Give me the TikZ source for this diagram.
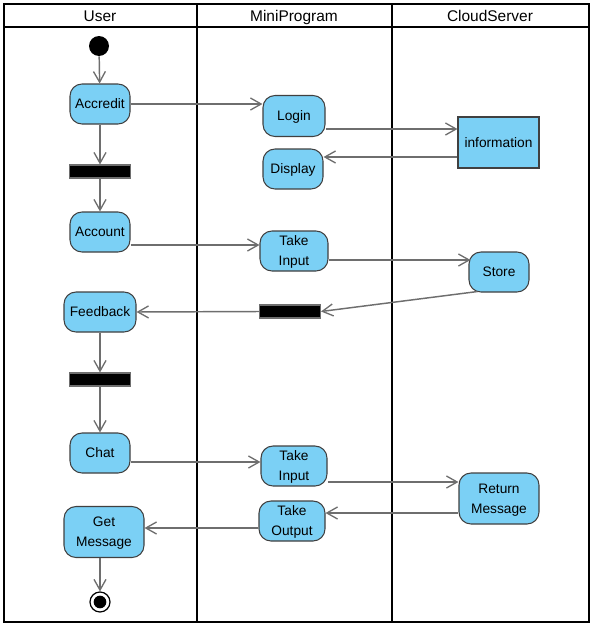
\documentclass[tikz,border=0pt]{standalone}
\usepackage{fontspec}
\setmainfont{Liberation Sans}
\usetikzlibrary{arrows.meta,calc}
\definecolor{actfill}{RGB}{123,208,245}
\definecolor{actdraw}{RGB}{64,64,64}
\definecolor{flowgray}{RGB}{110,110,110}
\begin{document}
\begin{tikzpicture}[x=0.75pt,y=-0.75pt,
  act/.style={draw=actdraw,line width=0.8pt,fill=actfill,rounded corners=9pt,inner sep=0pt,text depth=-1pt,align=center,font=\fontsize{10.3}{15}\selectfont},
  infobox/.style={draw=actdraw,line width=0.8pt,fill=actfill,inner sep=0pt,text depth=-1pt,align=center,font=\fontsize{10.3}{15}\selectfont},
  syncbar/.style={draw=flowgray,line width=0.8pt,fill=black,minimum width=45.75pt,minimum height=9.75pt,inner sep=0pt},
  flow/.style={draw=flowgray,line width=1.1pt,-{Straight Barb[length=8pt,width=9pt,line width=1pt]}},
  lane/.style={draw=black,line width=1.6pt},
  hdr/.style={font=\fontsize{11.6}{13}\selectfont,inner sep=0pt,text depth=0pt}]
\useasboundingbox (0,0) rectangle (594,628);
% swimlanes
\draw[lane] (4,4) rectangle (589,622);
\draw[lane] (4,27) -- (589,27);
\draw[lane] (197,4) -- (197,622);
\draw[lane] (392,4) -- (392,622);
\node[hdr] (hUser) at (100,16) {User};
\node[hdr] (hMini) at (294,16) {MiniProgram};
\node[hdr] (hCloud) at (490,16) {CloudServer};
% nodes
\node[circle,fill=black,minimum size=15pt,inner sep=0pt] (start) at (99,46) {};
\node[act,minimum width=45pt,minimum height=30pt] (accredit) at (100,104) {Accredit};
\node[syncbar] (bar1) at (100,171.5) {};
\node[act,minimum width=45pt,minimum height=30pt] (account) at (100,232) {Account};
\node[act,minimum width=54pt,minimum height=30pt] (feedback) at (100,312) {Feedback};
\node[syncbar] (bar2) at (100,379.5) {};
\node[act,minimum width=45pt,minimum height=30pt] (chat) at (100,453) {Chat};
\node[act,minimum width=60pt,minimum height=38.25pt] (getmsg) at (104,532) {Get\\Message};
\node[circle,draw=black,line width=0.9pt,fill=white,minimum size=15pt,inner sep=0pt] (end) at (100,602) {};
\node[circle,fill=black,minimum size=9.5pt,inner sep=0pt] (endin) at (end.center) {};

\node[act,minimum width=46.5pt,minimum height=30.75pt] (login) at (294,116) {Login};
\node[act,minimum width=45pt,minimum height=30pt] (display) at (293,169) {Display};
\node[act,minimum width=51pt,minimum height=30pt] (take1) at (294,251) {Take\\Input};
\node[syncbar] (bar3) at (290,311.5) {};
\node[act,minimum width=49.5pt,minimum height=30pt] (take2) at (294,466) {Take\\Input};
\node[act,minimum width=49.5pt,minimum height=30pt] (takeout) at (292,521) {Take\\Output};

\node[infobox,minimum width=60.75pt,minimum height=38.25pt] (info) at (498.5,142.5) {information};
\node[act,minimum width=45pt,minimum height=30pt] (store) at (499,272) {Store};
\node[act,minimum width=60pt,minimum height=38.25pt] (retmsg) at (499,498.5) {Return\\Message};

% connectors
\draw[flow] (start) -- (accredit);
\draw[flow] (accredit.east) -- (accredit.east -| login.west);
\draw[flow] (login.east |- 0,129) -- (info.west |- 0,129);
\draw[flow] (info.west |- 0,157) -- (display.east |- 0,157);
\draw[flow] (accredit) -- (bar1);
\draw[flow] (bar1) -- (account);
\draw[flow] (account.east |- 0,245) -- (take1.west |- 0,245);
\draw[flow] (take1.east |- 0,260) -- ($(store.west |- 0,260)+(2,0)$);
\draw[flow] ($(store.south west)+(9,-1)$) -- (bar3.east);
\draw[flow] (bar3.west) -- (feedback.east);
\draw[flow] (feedback) -- (bar2);
\draw[flow] (bar2) -- (chat);
\draw[flow] (chat.east |- 0,462) -- (take2.west |- 0,462);
\draw[flow] (take2.east |- 0,482) -- (retmsg.west |- 0,482);
\draw[flow] (retmsg.west |- 0,513) -- (takeout.east |- 0,513);
\draw[flow] (takeout.west |- 0,528) -- (getmsg.east |- 0,528);
\draw[flow] (getmsg.south -| end) -- (end);
\end{tikzpicture}
\end{document}
